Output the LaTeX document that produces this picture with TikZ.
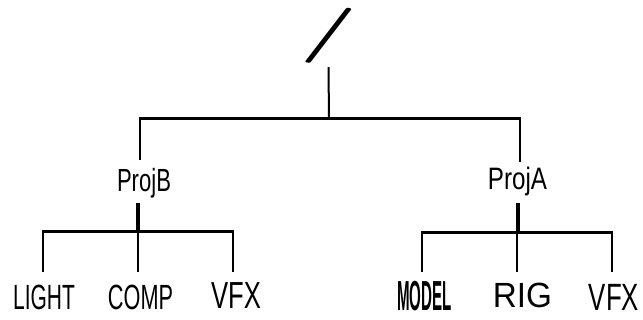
\documentclass[tikz,border=0pt]{standalone}
\usepackage{fontspec}
\newfontfamily\lsans{Liberation Sans}
\begin{document}
\begin{tikzpicture}[x=1pt,y=-1pt,
  lbl/.style={inner sep=0pt, anchor=base},
  bar/.style={line width=3pt},
  stem/.style={line width=2pt},
  leaf/.style={line width=2.5pt},
  sub/.style={line width=3.5pt}]
\useasboundingbox (0,0) rectangle (643,320);
% root
\node[inner sep=0pt] (root) at (328.5,35.5) {\bfseries\fontsize{55}{55}\selectfont\scalebox{1.9}[1]{/}};
% second level
\node[lbl] (projB) at (144,192) {\lsans\fontsize{32}{32}\selectfont\scalebox{0.69}[1]{ProjB}};
\node[lbl] (projA) at (517.5,190) {\lsans\fontsize{31}{31}\selectfont\scalebox{0.78}[1]{ProjA}};
% leaves
\node[lbl] (light) at (44,310) {\lsans\fontsize{35}{35}\selectfont\scalebox{0.60}[1]{LIGHT}};
\node[lbl] (comp) at (140.5,310) {\lsans\fontsize{35}{35}\selectfont\scalebox{0.62}[1]{COMP}};
\node[lbl] (vfxB) at (236,309) {\lsans\fontsize{37.7}{37.7}\selectfont\scalebox{0.68}[1]{VFX}};
\node[lbl] (model) at (424.5,311) {\lsans\bfseries\fontsize{42}{42}\selectfont\scalebox{0.36}[1]{MODEL}};
\node[lbl] (rig) at (522.5,308) {\lsans\fontsize{35}{35}\selectfont\scalebox{0.95}[1]{RIG}};
\node[lbl] (vfxA) at (614,311) {\lsans\fontsize{38}{38}\selectfont\scalebox{0.68}[1]{VFX}};
% junctions
\coordinate (j0) at (329,119);
\coordinate (jB) at (140,119);
\coordinate (jA) at (520,119);
\coordinate (kB) at (138,232);
\coordinate (kBl) at (43,232);
\coordinate (kBr) at (233,232);
\coordinate (kA) at (518,233);
\coordinate (kAl) at (422,233);
\coordinate (kAm) at (517,233);
\coordinate (kAr) at (612,233);
% root connectors
\draw[stem] ([yshift=-4pt]root.south) -- (j0);
\draw[bar] ([xshift=-1pt]jB) -- ([xshift=1pt]jA);
\draw[stem] (jB) -- ++(0,41);
\draw[stem] (jA) -- ++(0,43);
% ProjB subtree
\draw[sub] (kB) -- ++(0,-29);
\draw[bar] ([xshift=-1.2pt]kBl) -- ([xshift=1.2pt]kBr);
\draw[leaf] (kBl) -- ++(0,40);
\draw[leaf] (kB) -- ++(0,40);
\draw[leaf] (kBr) -- ++(0,40);
% ProjA subtree
\draw[sub] (kA) -- ++(0,-30);
\draw[bar] ([xshift=-1.2pt]kAl) -- ([xshift=1.2pt]kAr);
\draw[leaf] (kAl) -- ++(0,39);
\draw[leaf] (kAm) -- ++(0,39);
\draw[leaf] (kAr) -- ++(0,39);
\end{tikzpicture}
\end{document}
